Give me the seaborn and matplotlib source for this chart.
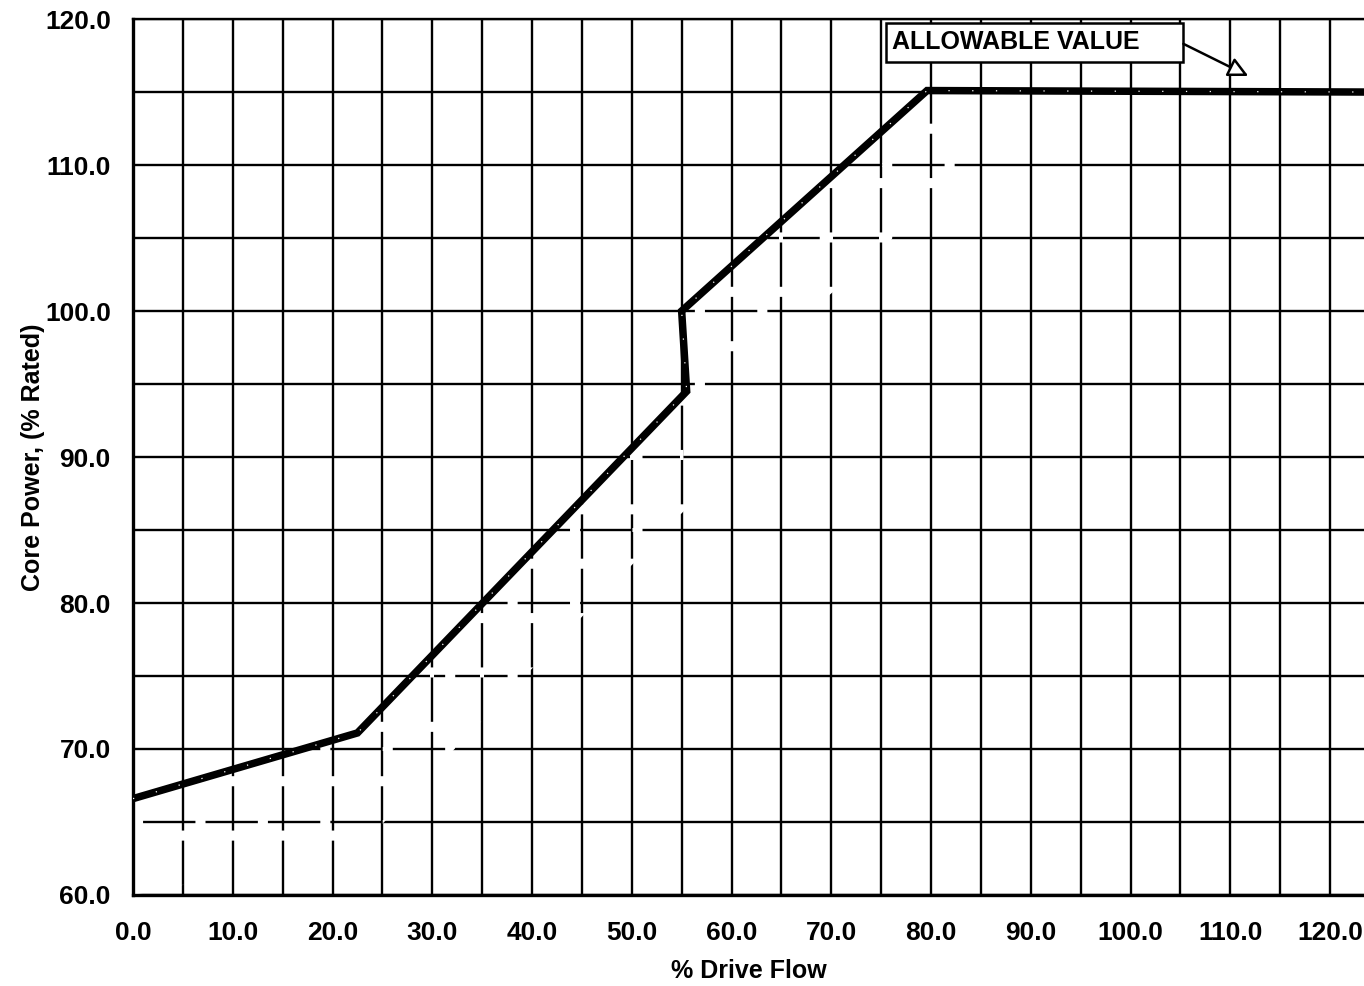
import numpy as np
import matplotlib
matplotlib.use("Agg")
import matplotlib.pyplot as plt
from matplotlib.ticker import MultipleLocator, FormatStrFormatter, FixedLocator
from matplotlib.patches import Polygon, Rectangle
import seaborn as sns

# Flow-biased allowable value curve: % drive flow vs core power (% rated)
drive_flow = [0.0, 22.5, 55.5, 55.0, 79.6, 123.4]
core_power = [66.6, 71.1, 94.5, 100.0, 115.1, 115.0]

x_ticks = [0, 10, 20, 30, 40, 50, 60, 70, 80, 90, 100, 110, 120]
y_ticks = [60, 70, 80, 90, 100, 110, 120]

callout_text = "ALLOWABLE VALUE"
x_label = "% Drive Flow"
y_label = "Core Power, (% Rated)"

sns.set_theme(style="white")
plt.rcParams["font.family"] = ["Liberation Sans", "DejaVu Sans"]
plt.rcParams["font.weight"] = "bold"
plt.rcParams["axes.labelweight"] = "bold"

fig = plt.figure(figsize=(13.64, 9.86), dpi=100)
ax = fig.add_axes([0.0975, 0.0923, 0.9025, 0.8884])

ax.set_xlim(0, 123.4)
ax.set_ylim(60, 120)

# grid: a line every 5 units, labels every 10
ax.xaxis.set_major_locator(FixedLocator(x_ticks))
ax.yaxis.set_major_locator(FixedLocator(y_ticks))
ax.xaxis.set_minor_locator(MultipleLocator(5))
ax.yaxis.set_minor_locator(MultipleLocator(5))
ax.xaxis.set_major_formatter(FormatStrFormatter("%.1f"))
ax.yaxis.set_major_formatter(FormatStrFormatter("%.1f"))
ax.set_axisbelow(True)
ax.grid(which="both", color="black", linewidth=1.7)

# broken grid segments in the band just beneath the curve
band_x = [p for p in drive_flow if p <= 82]
band_y = core_power[:len(band_x)]
upper = list(zip(band_x, band_y))
lower = [(xv, max(60.0, yv - 8.0)) for xv, yv in zip(band_x, band_y)][::-1]
band = Polygon(upper + [(84, 115.1), (84, 107.1)] + lower, closed=True,
               facecolor="none", edgecolor="none", transform=ax.transData)
ax.add_patch(band)
for xv in np.arange(0, 125, 5):
    ln, = ax.plot([xv, xv], [60, 120], color="white", lw=2.9,
                  dashes=(2.5, 11), zorder=1)
    ln.set_clip_path(band)
for yv in np.arange(60, 121, 5):
    ln, = ax.plot([0, 123.4], [yv, yv], color="white", lw=2.9,
                  dashes=(2.5, 13), zorder=1)
    ln.set_clip_path(band)

# main curve
sns.lineplot(x=drive_flow, y=core_power, sort=False, estimator=None,
             color="black", linewidth=5.4, ax=ax, zorder=3)
ax.lines[-1].set_solid_joinstyle("miter")
ax.plot(drive_flow, core_power, color="white", lw=0.9, dashes=(1, 18), zorder=4)

# axes frame
for side in ["left", "bottom"]:
    ax.spines[side].set_color("black")
    ax.spines[side].set_linewidth(2.4)
ax.spines["top"].set_color("black")
ax.spines["top"].set_linewidth(1.7)
ax.spines["right"].set_visible(False)

ax.tick_params(axis="both", which="major", direction="inout", length=10,
               width=1.2, color="black", labelsize=19, labelcolor="black")
ax.tick_params(axis="x", which="major", pad=14)
ax.tick_params(axis="y", which="major", pad=11)
ax.tick_params(axis="both", which="minor", length=0)

ax.set_xlabel(x_label, fontsize=18, fontweight="bold", color="black", labelpad=10)
ax.set_ylabel(y_label, fontsize=18, fontweight="bold", color="black", labelpad=0)

# callout box with arrow
box = Rectangle((75.5, 117.05), 29.8, 2.68, facecolor="white",
                edgecolor="black", linewidth=1.8, zorder=5)
ax.add_patch(box)
ax.text(76.1, 118.45, callout_text, ha="left", va="center", fontsize=18,
        fontweight="bold", color="black", zorder=6)
ax.annotate("", xy=(111.8, 116.1), xytext=(105.3, 118.3),
            arrowprops=dict(arrowstyle="-|>,head_length=1.0,head_width=0.5",
                            facecolor="white", edgecolor="black", lw=1.8,
                            shrinkA=0, shrinkB=0), zorder=6)

fig.savefig("out.png", dpi=100, facecolor="white")
